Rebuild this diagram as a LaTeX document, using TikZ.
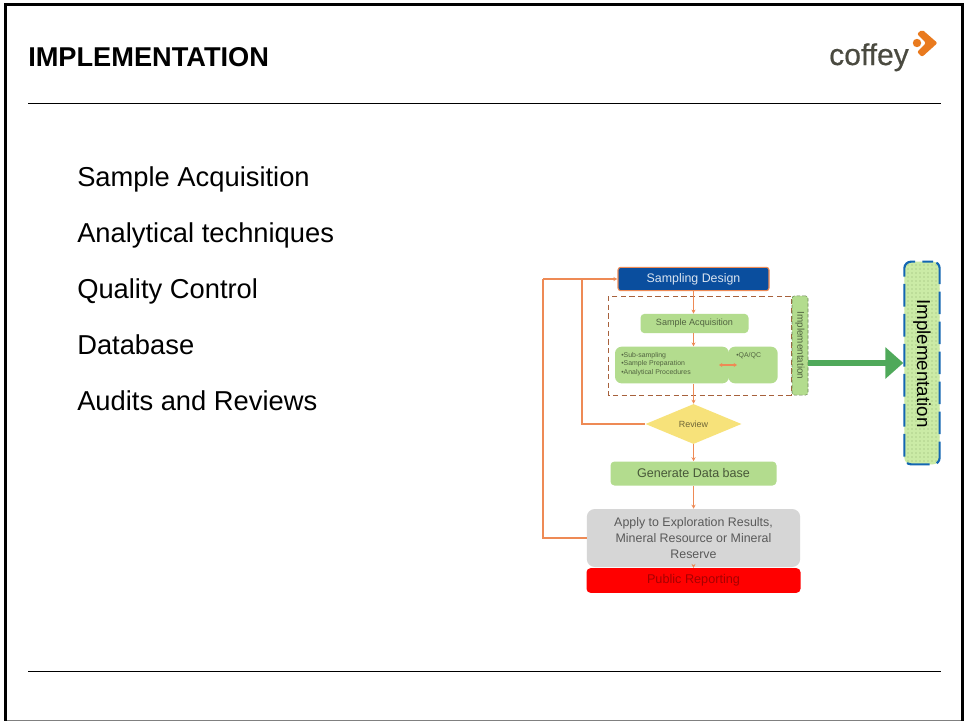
\documentclass[tikz,border=0pt]{standalone}
\usepackage{fontspec}
\setmainfont{Liberation Sans}
\newfontfamily\logofont[FakeBold=0.6]{Liberation Sans}
\usetikzlibrary{arrows.meta,shapes.geometric,patterns}
\definecolor{orline}{HTML}{EE8A55}
\definecolor{dkblue}{HTML}{0A4E9E}
\definecolor{lgreen}{HTML}{B3DC8E}
\definecolor{pgreen}{HTML}{CBEBA6}
\definecolor{agreen}{HTML}{4FA95A}
\definecolor{ygold}{HTML}{F7E27A}
\definecolor{lgray}{HTML}{D6D6D6}
\definecolor{brand}{HTML}{E97A1E}
\definecolor{logotext}{HTML}{4A4A40}
\definecolor{dashblue}{HTML}{1366B2}
\tikzset{
  x=0.75pt,y=-0.75pt,
  conn/.style={draw=orline,line width=1.3pt},
  connar/.style={conn,-{Stealth[length=3pt,width=3pt]}},
  rule/.style={draw=black,line width=0.6pt},
  bullet/.style={anchor=base west,font=\fontsize{20.5}{24}\selectfont,text=black,inner sep=0pt},
  gbox/.style={fill=lgreen,rounded corners=3pt,inner sep=0pt},
  smalltxt/.style={font=\fontsize{5.2}{6.4}\selectfont,text=black!55!lgreen,align=left,inner sep=0pt,anchor=north west},
}
\begin{document}
\begin{tikzpicture}
\useasboundingbox (0,0) rectangle (964,721);
\fill[white] (0,0) rectangle (964,721);
% frame
\draw[black!50,line width=0.8pt] (4,720.3) -- (963,720.3);
\draw[black,line width=2pt] (5.3,721) -- (5.3,4.6) -- (962.7,4.6) -- (962.7,721);
\draw[rule] (28,103.5) -- (941,103.5);
\draw[rule] (28,671.5) -- (941,671.5);
\node[anchor=base west,inner sep=0pt,font=\bfseries\fontsize{20.4}{24}\selectfont] (title) at (28,66) {IMPLEMENTATION};
% logo
\node[anchor=base west,inner sep=0pt,text=logotext,font=\logofont\fontsize{22.5}{26}\selectfont] (logo) at (829,65) {coffey};
\fill[brand,rounded corners=1.5pt] (917,34) -- (922,29.5) -- (937.5,43) -- (922,57) -- (917,52) -- (926,43) -- cycle;
\fill[brand] (917,43) circle (4.2);
% bullets
\node[bullet] (b1) at (77,186) {Sample Acquisition};
\node[bullet] (b2) at (77,242) {Analytical techniques};
\node[bullet] (b3) at (77,298) {Quality Control};
\node[bullet] (b4) at (77,354) {Database};
\node[bullet] (b5) at (77,410) {Audits and Reviews};
% dashed container
\draw[draw=black!30!orline,dashed,dash pattern=on 4pt off 2.5pt,line width=0.7pt] (608,296) rectangle (791,395);
% nodes
\node[draw=orline,line width=0.8pt,fill=dkblue,rounded corners=2pt,minimum width=113.25pt,minimum height=17.5pt,text=white!85!dkblue,font=\fontsize{9.3}{11}\selectfont,inner sep=0pt] (sd) at (693.5,279) {Sampling Design};
\node[gbox,minimum width=81pt,minimum height=14.5pt,text=black!55!lgreen,font=\fontsize{6.8}{8}\selectfont] (sa) at (694.5,323.5) {Sample Acquisition};
\node[gbox,rounded corners=5pt,minimum width=85.5pt,minimum height=27.5pt] (sp) at (672,365) {};
\node[gbox,rounded corners=5pt,minimum width=37pt,minimum height=27.5pt] (qa) at (753,365) {};
\node[smalltxt] (sptxt) at (621,352) {•Sub-sampling\\•Sample Preparation\\•Analytical Procedures};
\node[smalltxt] (qatxt) at (736,352) {•QA/QC};
\node[gbox,rounded corners=2pt,draw=black!40!lgreen,dashed,dash pattern=on 2.5pt off 1.5pt,line width=0.4pt,minimum width=12pt,minimum height=74.5pt,fill=lgreen] (impl) at (800,345.5) {};
\node[rotate=-90,text=black!55!lgreen,font=\fontsize{7.4}{9}\selectfont,inner sep=0pt] (impltxt) at (800,345.5) {Implementation};
\node[diamond,aspect=2.4,fill=ygold,minimum width=72pt,minimum height=30pt,inner sep=0pt,text=black!55!ygold,font=\fontsize{6.7}{8}\selectfont] (rev) at (693.5,424) {Review};
\node[gbox,minimum width=124.5pt,minimum height=18pt,text=black!60!lgreen,font=\fontsize{9.4}{11}\selectfont] (db) at (693.5,473.5) {Generate Data base};
\node[fill=lgray,rounded corners=6pt,minimum width=160pt,minimum height=43.5pt,inner sep=0pt,align=center,text=black!65,font=\fontsize{9.3}{12}\selectfont] (ap) at (693.5,538) {Apply to Exploration Results,\\Mineral Resource or Mineral\\Reserve};
\node[fill=red,rounded corners=3pt,minimum width=160.5pt,minimum height=18.5pt,inner sep=0pt,text=black!35!red,font=\fontsize{9.5}{11}\selectfont] (pr) at (693.5,580.5) {Public Reporting};
% big box
\node[fill=pgreen,rounded corners=5pt,minimum width=26.5pt,minimum height=152pt,inner sep=0pt] (bigbg) at (922,363) {};
\node[pattern=dots,pattern color=lgreen!80!black,rounded corners=5pt,draw=dashblue,dashed,dash pattern=on 17pt off 5.5pt,dash phase=9pt,line width=1.6pt,minimum width=26.5pt,minimum height=152pt,inner sep=0pt] (big) at (922,363) {};
\node[rotate=-90,font=\fontsize{14.1}{16}\selectfont,inner sep=0pt] (bigtxt) at (922,363.5) {Implementation};
% connectors
\coordinate (j1) at (582,279);
\coordinate (j2) at (543,279);
\coordinate (ql) at (719,365);
\coordinate (qr) at (737,365);
\draw[connar] (sd.south) -- (sd.south |- sa.north);
\draw[connar] (sd.south |- sa.south) -- (sd.south |- sp.north);
\draw[connar] (sd.south |- sp.south) -- (rev.north);
\draw[connar] (rev.south) -- (db.north);
\draw[connar] (db.south) -- (ap.north);
\draw[connar] (ap.south) -- (pr.north);
\draw[conn,{Stealth[length=2.5pt,width=3pt]}-{Stealth[length=2.5pt,width=3pt]}] (ql) -- (qr);
\draw[conn] (rev.west) -| (j1);
\draw[conn] (ap.west) -| (j2);
\draw[connar] (j2) -- (sd.west);
\draw[draw=agreen,line width=5pt,-{Triangle[length=13.5pt,width=23pt]}] (impl.east |- big.west) -- (big.west);
\end{tikzpicture}
\end{document}
